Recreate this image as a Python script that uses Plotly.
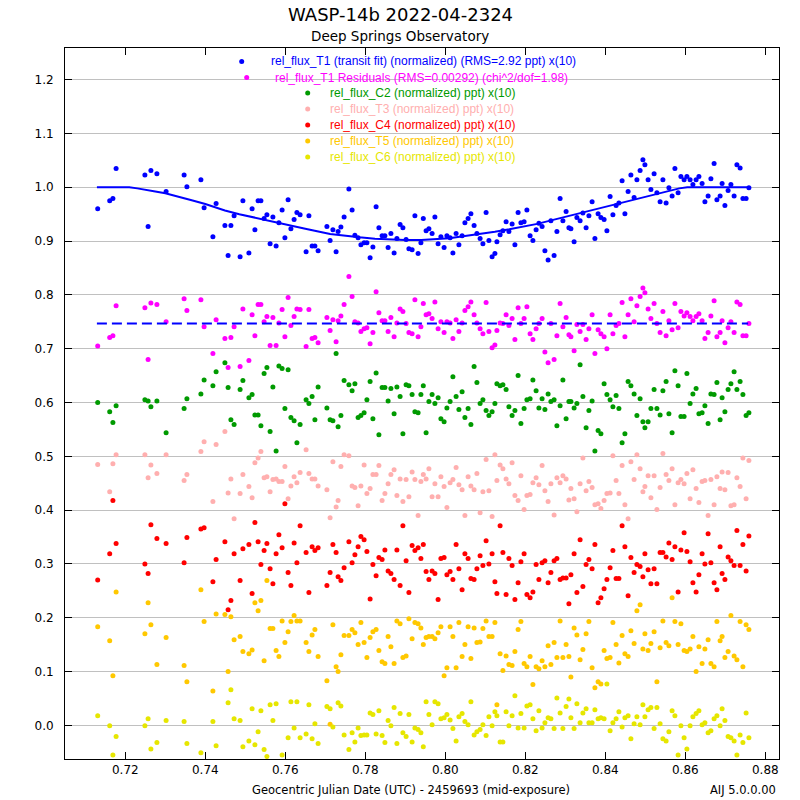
import plotly.graph_objects as go

# ---------------- data ----------------
# Geocentric JD (UTC) - 2459693
time_x = [
    0.7131, 0.7161, 0.7169, 0.7177, 0.7249, 0.7257, 0.7264, 0.7279, 0.7302, 0.7347,
    0.7354, 0.7389, 0.7397, 0.7419, 0.7427, 0.7449, 0.7457, 0.7464, 0.7472, 0.7487,
    0.7494, 0.7509, 0.7517, 0.7524, 0.7532, 0.7539, 0.7547, 0.7554, 0.7562, 0.7569,
    0.7577, 0.7584, 0.7592, 0.7599, 0.7607, 0.7614, 0.7622, 0.7629, 0.7637, 0.7652,
    0.7659, 0.7667, 0.7674, 0.7682, 0.7704, 0.7712, 0.7719, 0.7727,
    0.7732, 0.7739, 0.7747, 0.7759, 0.7767, 0.7774, 0.7782, 0.7789, 0.7797, 0.7804,
    0.7812, 0.7819, 0.7827, 0.7834, 0.7842, 0.7849, 0.7857, 0.7864, 0.7872, 0.7879,
    0.7887, 0.7894, 0.7902, 0.7909, 0.7917, 0.7924, 0.7932, 0.7939, 0.7945, 0.7952,
    0.7959, 0.7967, 0.7974, 0.7982, 0.7989, 0.7997, 0.8004, 0.8012, 0.8019, 0.8027,
    0.8034, 0.8042, 0.8049, 0.8057, 0.8064, 0.8072, 0.8079, 0.8087, 0.8094, 0.8102,
    0.8109, 0.8117, 0.8124, 0.8129, 0.8137, 0.8144, 0.8152, 0.8159, 0.8167, 0.8174,
    0.8182, 0.8189, 0.8197, 0.8204, 0.8212, 0.8219, 0.8227, 0.8234, 0.8242, 0.8249,
    0.8257, 0.8264, 0.8272,
    0.8279, 0.8287, 0.8294, 0.8302, 0.8309, 0.8314, 0.8322, 0.8329, 0.8337, 0.8344,
    0.8352, 0.8359, 0.8367, 0.8374, 0.8382, 0.8389, 0.8397, 0.8404, 0.8412, 0.8419,
    0.8427, 0.8434, 0.8442, 0.8449, 0.8457, 0.8464, 0.8472, 0.8479, 0.8487, 0.8494,
    0.8499, 0.8507, 0.8514, 0.8522, 0.8529, 0.8537, 0.8544, 0.8552, 0.8559, 0.8567,
    0.8574, 0.8582, 0.8589, 0.8597, 0.8604, 0.8612, 0.8619, 0.8627, 0.8634, 0.8642,
    0.8649, 0.8657, 0.8664, 0.8672, 0.8679, 0.8687, 0.8692, 0.8699, 0.8707, 0.8714,
    0.8722, 0.8729, 0.8737, 0.8744, 0.8752, 0.8759,
]

flux_T1 = [
    0.960, 0.975, 0.979, 1.035, 1.023, 0.927, 1.031, 1.025, 0.992, 1.023,
    1.001, 1.014, 0.962, 0.908, 0.970, 0.929, 0.873, 0.929, 0.947, 0.871,
    0.975, 0.878, 0.960, 0.921, 0.975, 0.975, 0.942, 0.949, 0.895, 0.945,
    0.891, 0.934, 0.958, 0.906, 0.977, 0.923, 0.940, 0.953, 0.949, 0.880,
    0.947, 0.891, 0.891, 0.882, 0.927, 0.901, 0.921, 0.880,
    0.918, 0.926, 0.945, 0.997, 0.958, 0.911, 0.906, 0.893, 0.897, 0.897,
    0.869, 0.889, 0.964, 0.925, 0.910, 0.910, 0.888, 0.914, 0.878, 0.905,
    0.931, 0.925, 0.903, 0.886, 0.884, 0.947, 0.877, 0.897, 0.942, 0.919,
    0.923, 0.914, 0.945, 0.895, 0.908, 0.888, 0.910, 0.906, 0.878, 0.914,
    0.893, 0.910, 0.934, 0.942, 0.951, 0.929, 0.914, 0.905, 0.895, 0.953,
    0.901, 0.871, 0.877, 0.899, 0.912, 0.919, 0.936, 0.918, 0.932, 0.893,
    0.953, 0.934, 0.936, 0.958, 0.910, 0.901, 0.921, 0.933, 0.927, 0.882,
    0.865, 0.938, 0.873,
    0.918, 0.979, 0.938, 0.955, 0.925, 0.923, 0.899, 0.944, 0.938, 0.952,
    0.925, 0.947, 0.973, 0.905, 0.951, 0.944, 0.940, 0.919, 0.983, 0.949,
    0.966, 0.971, 1.012, 0.951, 0.992, 1.023, 0.981, 1.014, 1.031, 1.051,
    1.042, 1.014, 0.996, 1.025, 0.990, 0.973, 1.014, 0.971, 0.999, 0.984,
    1.035, 0.990, 1.020, 1.014, 1.020, 1.014, 1.005, 1.014, 1.020, 1.007,
    0.973, 0.984, 1.016, 1.044, 0.977, 0.984, 1.007, 0.966, 0.994, 1.005,
    0.984, 1.042, 1.036, 0.979, 0.979, 0.999,
]

resid_T1 = [
    0.705, 0.721, 0.724, 0.780, 0.776, 0.680, 0.785, 0.782, 0.750, 0.793,
    0.771, 0.791, 0.741, 0.691, 0.754, 0.719, 0.665, 0.721, 0.741, 0.667,
    0.774, 0.678, 0.763, 0.724, 0.782, 0.782, 0.750, 0.760, 0.706, 0.758,
    0.706, 0.748, 0.773, 0.722, 0.795, 0.743, 0.760, 0.774, 0.773, 0.704,
    0.773, 0.719, 0.721, 0.711, 0.758, 0.734, 0.754, 0.713,
    0.752, 0.761, 0.782, 0.834, 0.797, 0.750, 0.748, 0.732, 0.737, 0.739,
    0.709, 0.730, 0.806, 0.767, 0.752, 0.752, 0.732, 0.758, 0.722, 0.748,
    0.774, 0.769, 0.747, 0.730, 0.728, 0.791, 0.722, 0.741, 0.784, 0.763,
    0.765, 0.756, 0.787, 0.737, 0.750, 0.730, 0.750, 0.748, 0.719, 0.754,
    0.732, 0.748, 0.771, 0.778, 0.787, 0.763, 0.748, 0.737, 0.728, 0.786,
    0.732, 0.702, 0.707, 0.734, 0.748, 0.747, 0.763, 0.743, 0.756, 0.717,
    0.776, 0.747, 0.756, 0.778, 0.728, 0.717, 0.737, 0.747, 0.756, 0.694,
    0.674, 0.747, 0.680,
    0.724, 0.784, 0.741, 0.758, 0.726, 0.722, 0.696, 0.745, 0.732, 0.745,
    0.717, 0.737, 0.763, 0.691, 0.735, 0.728, 0.722, 0.700, 0.763, 0.728,
    0.743, 0.747, 0.786, 0.722, 0.763, 0.793, 0.750, 0.780, 0.797, 0.813,
    0.804, 0.774, 0.756, 0.784, 0.747, 0.730, 0.769, 0.724, 0.752, 0.735,
    0.784, 0.739, 0.769, 0.761, 0.767, 0.760, 0.752, 0.760, 0.765, 0.752,
    0.719, 0.730, 0.761, 0.789, 0.722, 0.730, 0.752, 0.711, 0.739, 0.750,
    0.730, 0.787, 0.782, 0.724, 0.724, 0.747,
]

flux_C2 = [
    0.600, 0.583, 0.563, 0.594, 0.605, 0.603, 0.592, 0.603, 0.544, 0.589,
    0.607, 0.616, 0.642, 0.631, 0.657, 0.674, 0.628, 0.568, 0.559, 0.624,
    0.641, 0.609, 0.615, 0.577, 0.577, 0.557, 0.654, 0.665, 0.546, 0.629,
    0.510, 0.668, 0.663, 0.589, 0.661, 0.572, 0.566, 0.525, 0.559, 0.605,
    0.598, 0.611, 0.568, 0.629, 0.590, 0.568, 0.566, 0.691,
    0.555, 0.576, 0.641, 0.633, 0.622, 0.635, 0.572, 0.576, 0.581, 0.605,
    0.639, 0.570, 0.655, 0.540, 0.628, 0.628, 0.603, 0.626, 0.579, 0.629,
    0.611, 0.542, 0.633, 0.631, 0.615, 0.583, 0.581, 0.615, 0.631, 0.544,
    0.602, 0.615, 0.598, 0.609, 0.570, 0.564, 0.590, 0.602, 0.648, 0.611,
    0.587, 0.620, 0.572, 0.589, 0.559, 0.667, 0.637, 0.598, 0.605, 0.585,
    0.576, 0.583, 0.598, 0.635, 0.631, 0.633, 0.624, 0.592, 0.576, 0.585,
    0.650, 0.561, 0.589, 0.605, 0.607, 0.642, 0.622, 0.590, 0.607, 0.587,
    0.616, 0.602, 0.605,
    0.557, 0.594, 0.642, 0.570, 0.602, 0.602, 0.590, 0.598, 0.670, 0.611,
    0.553, 0.585, 0.603, 0.510, 0.548, 0.542, 0.635, 0.615, 0.605, 0.592,
    0.613, 0.589, 0.525, 0.542, 0.639, 0.631, 0.616, 0.576, 0.607, 0.564,
    0.553, 0.564, 0.589, 0.624, 0.589, 0.577, 0.622, 0.639, 0.579, 0.544,
    0.659, 0.631, 0.574, 0.574, 0.654, 0.598, 0.616, 0.626, 0.579, 0.581,
    0.594, 0.561, 0.616, 0.615, 0.637, 0.568, 0.609, 0.583, 0.624, 0.635,
    0.657, 0.624, 0.639, 0.615, 0.576, 0.581,
]

flux_T3 = [
    0.485, 0.434, 0.486, 0.503, 0.503, 0.460, 0.484, 0.468, 0.503, 0.455,
    0.466, 0.509, 0.527, 0.416, 0.522, 0.546, 0.432, 0.458, 0.384, 0.431,
    0.466, 0.444, 0.423, 0.488, 0.497, 0.509, 0.460, 0.462, 0.434, 0.457,
    0.458, 0.453, 0.453, 0.481, 0.421, 0.445, 0.462, 0.451, 0.470, 0.512,
    0.468, 0.458, 0.458, 0.445, 0.438, 0.386, 0.490, 0.406,
    0.418, 0.481, 0.503, 0.501, 0.445, 0.442, 0.408, 0.445, 0.484, 0.431,
    0.440, 0.466, 0.466, 0.483, 0.418, 0.431, 0.449, 0.466, 0.475, 0.427,
    0.458, 0.416, 0.457, 0.425, 0.471, 0.457, 0.390, 0.453, 0.466, 0.458,
    0.477, 0.425, 0.449, 0.425, 0.462, 0.444, 0.405, 0.451, 0.457, 0.479,
    0.447, 0.438, 0.390, 0.462, 0.445, 0.438, 0.468, 0.395, 0.434, 0.494,
    0.436, 0.388, 0.503, 0.455, 0.484, 0.477, 0.458, 0.449, 0.488, 0.427,
    0.418, 0.464, 0.401, 0.427, 0.429, 0.451, 0.460, 0.447, 0.483, 0.436,
    0.416, 0.449, 0.391,
    0.460, 0.451, 0.464, 0.458, 0.419, 0.440, 0.421, 0.397, 0.449, 0.497,
    0.436, 0.453, 0.442, 0.410, 0.412, 0.403, 0.418, 0.431, 0.432, 0.501,
    0.455, 0.431, 0.483, 0.410, 0.384, 0.490, 0.457, 0.503, 0.477, 0.434,
    0.444, 0.464, 0.423, 0.464, 0.401, 0.442, 0.505, 0.466, 0.455, 0.477,
    0.410, 0.451, 0.457, 0.449, 0.468, 0.421, 0.475, 0.440, 0.414, 0.453,
    0.455, 0.390, 0.457, 0.410, 0.462, 0.440, 0.471, 0.438, 0.470, 0.408,
    0.410, 0.460, 0.444, 0.497, 0.421, 0.492,
]

flux_C4 = [
    0.270, 0.319, 0.418, 0.338, 0.300, 0.282, 0.373, 0.347, 0.338, 0.302,
    0.349, 0.365, 0.367, 0.267, 0.308, 0.341, 0.215, 0.232, 0.319, 0.269,
    0.328, 0.336, 0.245, 0.377, 0.341, 0.299, 0.325, 0.338, 0.291, 0.263,
    0.319, 0.354, 0.330, 0.412, 0.284, 0.260, 0.339, 0.302, 0.371, 0.321,
    0.247, 0.332, 0.325, 0.330, 0.260, 0.284, 0.336, 0.321,
    0.276, 0.269, 0.293, 0.341, 0.302, 0.317, 0.332, 0.351, 0.345, 0.323,
    0.235, 0.299, 0.278, 0.312, 0.308, 0.326, 0.287, 0.282, 0.271, 0.326,
    0.260, 0.371, 0.306, 0.247, 0.334, 0.325, 0.330, 0.310, 0.336, 0.286,
    0.271, 0.287, 0.282, 0.234, 0.310, 0.312, 0.280, 0.286, 0.271, 0.336,
    0.291, 0.252, 0.319, 0.310, 0.273, 0.271, 0.291, 0.315, 0.297, 0.343,
    0.300, 0.319, 0.267, 0.245, 0.371, 0.321, 0.243, 0.310, 0.297, 0.234,
    0.265, 0.304, 0.319, 0.243, 0.237, 0.248, 0.299, 0.271, 0.302, 0.306,
    0.265, 0.284, 0.306,
    0.310, 0.271, 0.274, 0.274, 0.226, 0.280, 0.319, 0.247, 0.345, 0.258,
    0.299, 0.308, 0.291, 0.336, 0.228, 0.237, 0.254, 0.271, 0.293, 0.325,
    0.273, 0.273, 0.371, 0.332, 0.241, 0.312, 0.284, 0.299, 0.295, 0.276,
    0.319, 0.289, 0.263, 0.291, 0.263, 0.321, 0.321, 0.313, 0.339, 0.308,
    0.332, 0.248, 0.326, 0.358, 0.323, 0.304, 0.265, 0.248, 0.280, 0.319,
    0.300, 0.356, 0.302, 0.265, 0.252, 0.332, 0.282, 0.271, 0.313, 0.306,
    0.297, 0.362, 0.297, 0.336, 0.287, 0.352,
]

flux_T5 = [
    0.183, 0.157, 0.092, 0.248, 0.170, 0.228, 0.187, 0.113, 0.163, 0.111,
    0.081, 0.252, 0.193, 0.064, 0.207, 0.206, 0.100, 0.202, 0.159, 0.165,
    0.137, 0.133, 0.140, 0.228, 0.213, 0.232, 0.120, 0.269, 0.180, 0.180,
    0.139, 0.128, 0.194, 0.154, 0.174, 0.193, 0.204, 0.194, 0.194, 0.154,
    0.137, 0.168, 0.178, 0.128, 0.083, 0.002, 0.187, 0.109,
    0.100, 0.131, 0.167, 0.167, 0.178, 0.172, 0.150, 0.191, 0.154, 0.126,
    0.163, 0.174, 0.178, 0.139, 0.118, 0.115, 0.165, 0.146, 0.115, 0.194,
    0.189, 0.126, 0.129, 0.198, 0.161, 0.191, 0.189, 0.181, 0.150, 0.163,
    0.165, 0.165, 0.161, 0.172, 0.183, 0.092, 0.107, 0.183, 0.165, 0.107,
    0.191, 0.128, 0.150, 0.183, 0.124, 0.181, 0.154, 0.155, 0.180, 0.194,
    0.165, 0.165, 0.191, 0.038, 0.133, 0.102, 0.129, 0.113, 0.111, 0.137,
    0.178, 0.193, 0.115, 0.109, 0.128, 0.076, 0.109, 0.105, 0.120, 0.109,
    0.148, 0.113, 0.154,
    0.126, 0.194, 0.126, 0.150, 0.128, 0.090, 0.181, 0.168, 0.122, 0.141,
    0.170, 0.193, 0.107, 0.070, 0.081, 0.077, 0.139, 0.124, 0.126, 0.191,
    0.150, 0.116, 0.167, 0.133, 0.128, 0.176, 0.152, 0.213, 0.224, 0.142,
    0.170, 0.139, 0.152, 0.174, 0.081, 0.144, 0.194, 0.154, 0.148, 0.237,
    0.193, 0.150, 0.189, 0.139, 0.137, 0.142, 0.165, 0.100, 0.146, 0.115,
    0.142, 0.159, 0.115, 0.109, 0.193, 0.157, 0.165, 0.126, 0.137, 0.204,
    0.129, 0.122, 0.193, 0.109, 0.187, 0.178,
]

flux_C6 = [
    0.018, -0.001, -0.055, -0.021, -0.001, 0.012, -0.044, -0.032, 0.009, 0.007,
    -0.034, -0.051, -0.075, 0.007, -0.038, -0.075, 0.042, 0.066, 0.012, 0.009,
    -0.040, -0.029, 0.031, -0.036, -0.012, 0.027, -0.045, -0.058, 0.038, 0.009,
    0.040, -0.075, -0.055, -0.075, -0.023, 0.044, -0.005, 0.044, -0.023, -0.016,
    0.038, -0.025, 0.003, -0.034, 0.035, 0.031, -0.003, -0.075,
    0.042, 0.036, -0.018, -0.045, -0.014, -0.031, -0.005, -0.019, -0.018, -0.018,
    0.023, 0.020, -0.016, 0.027, -0.019, -0.032, 0.009, -0.001, 0.033, -0.034,
    0.022, -0.014, -0.021, 0.020, -0.031, -0.005, -0.008, -0.014, -0.040, 0.044,
    0.020, 0.001, 0.044, 0.040, 0.012, 0.014, 0.020, 0.010, -0.006, -0.029,
    0.016, 0.022, 0.007, 0.001, 0.044, -0.018, -0.012, -0.008, 0.001, -0.019,
    0.016, -0.001, 0.025, 0.018, -0.031, -0.031, 0.025, -0.001, 0.018, 0.055,
    -0.005, 0.022, -0.005, 0.036, 0.038, 0.012, -0.010, 0.027, -0.005, 0.005,
    0.014, 0.012, -0.006,
    0.051, 0.023, -0.006, 0.035, 0.049, 0.014, -0.006, 0.040, 0.005, 0.023,
    0.031, 0.005, 0.005, 0.029, 0.012, 0.014, 0.012, 0.077, -0.010, 0.005,
    0.012, 0.025, -0.003, 0.014, 0.018, -0.025, 0.003, 0.016, 0.001, 0.038,
    0.016, 0.029, 0.033, -0.006, 0.033, 0.003, -0.025, -0.029, -0.012, 0.027,
    0.018, -0.055, -0.001, -0.023, -0.044, -0.001, 0.016, 0.022, 0.027, 0.001,
    0.005, -0.014, -0.010, 0.012, 0.018, -0.001, 0.031, 0.009, -0.021, -0.023,
    -0.029, -0.055, -0.018, -0.032, 0.023, -0.023,
]

# transit model curve and residual baseline
model_x = [0.7129, 0.7210, 0.7230, 0.7250, 0.7275, 0.7300, 0.7333, 0.7366, 0.7400,
           0.7449, 0.7485, 0.7520, 0.7583, 0.7650, 0.7712, 0.7750, 0.7785, 0.7824,
           0.7860, 0.7899, 0.7940, 0.7974, 0.8010, 0.8049, 0.8090, 0.8124, 0.8160,
           0.8199, 0.8230, 0.8262, 0.8310, 0.8362, 0.8410, 0.8462, 0.8500, 0.8530,
           0.8562, 0.8585, 0.8605, 0.8757]
model_y = [1.000, 1.000, 0.998, 0.995, 0.992, 0.989, 0.983, 0.976, 0.969,
           0.957, 0.950, 0.944, 0.934, 0.923, 0.913, 0.9095, 0.907, 0.9045,
           0.903, 0.902, 0.9022, 0.9033, 0.9055, 0.9095, 0.9135, 0.9175, 0.922,
           0.927, 0.932, 0.938, 0.947, 0.956, 0.966, 0.976, 0.983, 0.988,
           0.994, 0.998, 1.000, 1.000]
resid_line_x = [0.7129, 0.8757]
resid_line_y = [0.747, 0.747]

series = [
    ("rel_flux_T1 (transit fit) (normalized) (RMS=2.92 ppt) x(10)", flux_T1, "#0000FF"),
    ("rel_flux_T1 Residuals (RMS=0.00292) (chi^2/dof=1.98)", resid_T1, "#FF00FF"),
    ("rel_flux_C2 (normalized) ppt) x(10)", flux_C2, "#009A00"),
    ("rel_flux_T3 (normalized) ppt) x(10)", flux_T3, "#FFAFAF"),
    ("rel_flux_C4 (normalized) ppt) x(10)", flux_C4, "#FF0000"),
    ("rel_flux_T5 (normalized) ppt) x(10)", flux_T5, "#FFC800"),
    ("rel_flux_C6 (normalized) ppt) x(10)", flux_C6, "#E6E600"),
]
for name, ys, col in series:
    assert len(ys) == len(time_x), (name, len(ys), len(time_x))

# ---------------- layout geometry ----------------
W, H = 800, 800
ML, MR, MT, MB = 65, 21, 48, 41
PW, PH = W - ML - MR, H - MT - MB


def pxx(px):
    return (px - ML) / PW


def pxy(py):
    return (H - MB - py) / PH


fig = go.Figure()

for name, ys, col in series:
    fig.add_trace(go.Scatter(
        x=time_x, y=ys, mode="markers", name=name,
        marker=dict(color=col, size=5, line=dict(width=0)),
        showlegend=False,
    ))

fig.add_trace(go.Scatter(
    x=model_x, y=model_y, mode="lines", name="transit model",
    line=dict(color="#0000FF", width=2),
    showlegend=False,
))
fig.add_trace(go.Scatter(
    x=resid_line_x, y=resid_line_y, mode="lines", name="residual baseline",
    line=dict(color="#0000FF", width=2, dash="10px,5px"),
    showlegend=False,
))

# legend drawn as centred rows of dot + coloured text
row_y = [61.5, 77.5, 93, 109, 125, 141, 157]
dot_x = [241.7, 246.7, 307.7, 307.7, 307.7, 307.7, 307.7]
text_x = [269, 273, 327.7, 327.7, 327.7, 327.7, 327.7]
annotations = []
shapes = []
for (name, ys, col), ry, dx, tx in zip(series, row_y, dot_x, text_x):
    annotations.append(dict(
        x=pxx(tx), y=pxy(ry), xref="paper", yref="paper", text=name,
        showarrow=False, xanchor="left", yanchor="middle",
        font=dict(family="Liberation Sans, Arial, sans-serif", size=12, color=col),
    ))
    shapes.append(dict(
        type="circle", xref="paper", yref="paper",
        x0=pxx(dx - 2.5), x1=pxx(dx + 2.5), y0=pxy(ry + 2.5), y1=pxy(ry - 2.5),
        fillcolor=col, line=dict(width=0),
    ))

annotations += [
    dict(x=pxx(400), y=pxy(14), xref="paper", yref="paper",
         text="WASP-14b 2022-04-2324", showarrow=False, xanchor="center", yanchor="middle",
         font=dict(family="DejaVu Sans", size=18, color="black")),
    dict(x=pxx(400), y=pxy(36), xref="paper", yref="paper",
         text="Deep Springs Observatory", showarrow=False, xanchor="center", yanchor="middle",
         font=dict(family="DejaVu Sans", size=13.5, color="black")),
    dict(x=pxx(411), y=pxy(790), xref="paper", yref="paper",
         text="Geocentric Julian Date (UTC) - 2459693 (mid-exposure)", showarrow=False,
         xanchor="center", yanchor="middle",
         font=dict(family="DejaVu Sans", size=11.5, color="black")),
    dict(x=pxx(778), y=pxy(790), xref="paper", yref="paper",
         text="AIJ 5.0.0.00", showarrow=False, xanchor="right", yanchor="middle",
         font=dict(family="DejaVu Sans", size=11.5, color="black")),
]

fig.update_layout(
    width=W, height=H,
    margin=dict(l=ML, r=MR, t=MT, b=MB, pad=0, autoexpand=False),
    paper_bgcolor="white", plot_bgcolor="white",
    annotations=annotations, shapes=shapes,
    font=dict(family="DejaVu Sans", size=12, color="black"),
    showlegend=False,
)
fig.update_xaxes(
    range=[0.704925, 0.883425], dtick=0.02, tick0=0.72, tickformat=".2f",
    showgrid=False, zeroline=False,
    showline=True, linecolor="black", linewidth=1, mirror="ticks",
    ticks="inside", ticklen=7, tickcolor="black",
    tickfont=dict(family="DejaVu Sans", size=12, color="black"),
)
fig.update_yaxes(
    range=[-0.0626, 1.2589], dtick=0.1, tick0=0, tickformat=".1f",
    showgrid=True, gridcolor="#C0C0C0", gridwidth=1, zeroline=False,
    showline=True, linecolor="black", linewidth=1, mirror="ticks",
    ticks="inside", ticklen=7, tickcolor="black",
    tickfont=dict(family="DejaVu Sans", size=12, color="black"),
    ticklabelstandoff=8,
)

fig.write_html(
    "out.html",
    config={"displayModeBar": False},
    post_script="document.body.style.margin='0';document.body.style.padding='0';",
)
